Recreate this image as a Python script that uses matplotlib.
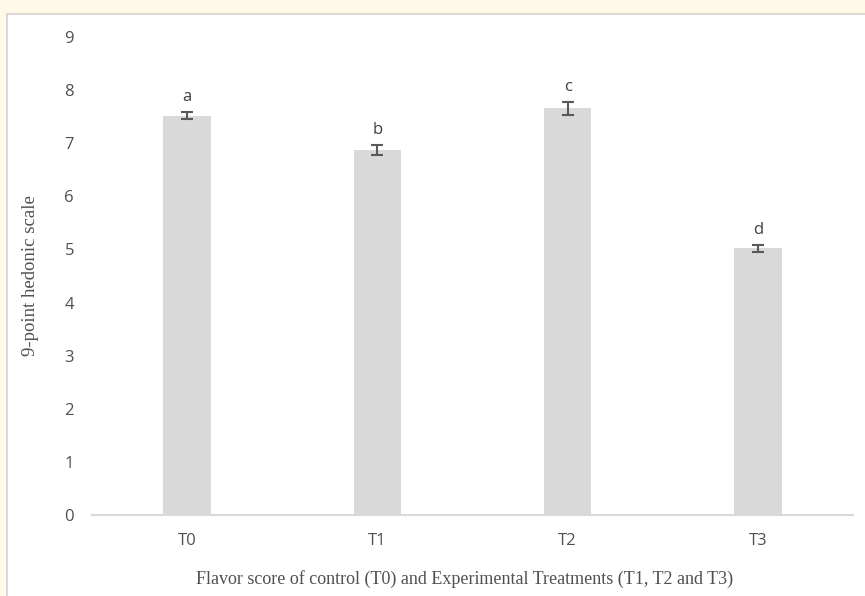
import matplotlib.pyplot as plt
from matplotlib.patches import Rectangle

treatments = ['T0', 'T1', 'T2', 'T3']
scores = [7.52, 6.87, 7.66, 5.02]
errors = [0.06, 0.10, 0.12, 0.06]
letters = ['a', 'b', 'c', 'd']

fig = plt.figure(figsize=(8.65, 5.96), dpi=100)
fig.patch.set_facecolor('#fffae8')

# white panel with light border, behind the axes
panel = Rectangle((7 / 865, -0.01), 1, 1.01 - 14 / 596, transform=fig.transFigure,
                  facecolor='white', edgecolor='#d9d9d9', linewidth=1.5, zorder=-10)
fig.patches.append(panel)

ax = fig.add_axes([92 / 865, 1 - 515 / 596, (853 - 92) / 865, (515 - 37) / 596])
ax.set_facecolor('none')
ax.set_zorder(1)

x = range(len(treatments))
ax.bar(x, scores, width=0.25, color='#d9d9d9', zorder=2)
ax.errorbar(x, scores, yerr=errors, fmt='none', ecolor='#595959',
            elinewidth=1.5, capsize=4, capthick=1.5, zorder=3)

for i, (s, e, l) in enumerate(zip(scores, errors, letters)):
    ax.annotate(l, (i, s + e), textcoords='offset points', xytext=(0, 5),
                ha='center', va='bottom', fontsize=12, color='#404040',
                family='Open Sans')

ax.set_xlim(-0.5, 3.5)
ax.set_ylim(0, 9)
ax.set_yticks(range(10))
ax.set_xticks(list(x))
ax.set_xticklabels(treatments)

for side in ['top', 'right', 'left']:
    ax.spines[side].set_visible(False)
ax.spines['bottom'].set_color('#d9d9d9')
ax.spines['bottom'].set_linewidth(1.5)
ax.tick_params(axis='both', length=0, labelsize=12, colors='#505050')
ax.tick_params(axis='y', pad=13)
ax.tick_params(axis='x', pad=13)
for lab in ax.get_xticklabels() + ax.get_yticklabels():
    lab.set_family('Open Sans')

ax.set_ylabel('9-point hedonic scale', family='Liberation Serif', fontsize=13.5,
              color='#505050', labelpad=18)
ax.set_xlabel('Flavor score of control (T0) and Experimental Treatments (T1, T2 and T3)',
              family='Liberation Serif', fontsize=13, color='#505050')
ax.xaxis.set_label_coords(0.489, -0.115)

plt.savefig('out.png', dpi=100, facecolor=fig.get_facecolor())
